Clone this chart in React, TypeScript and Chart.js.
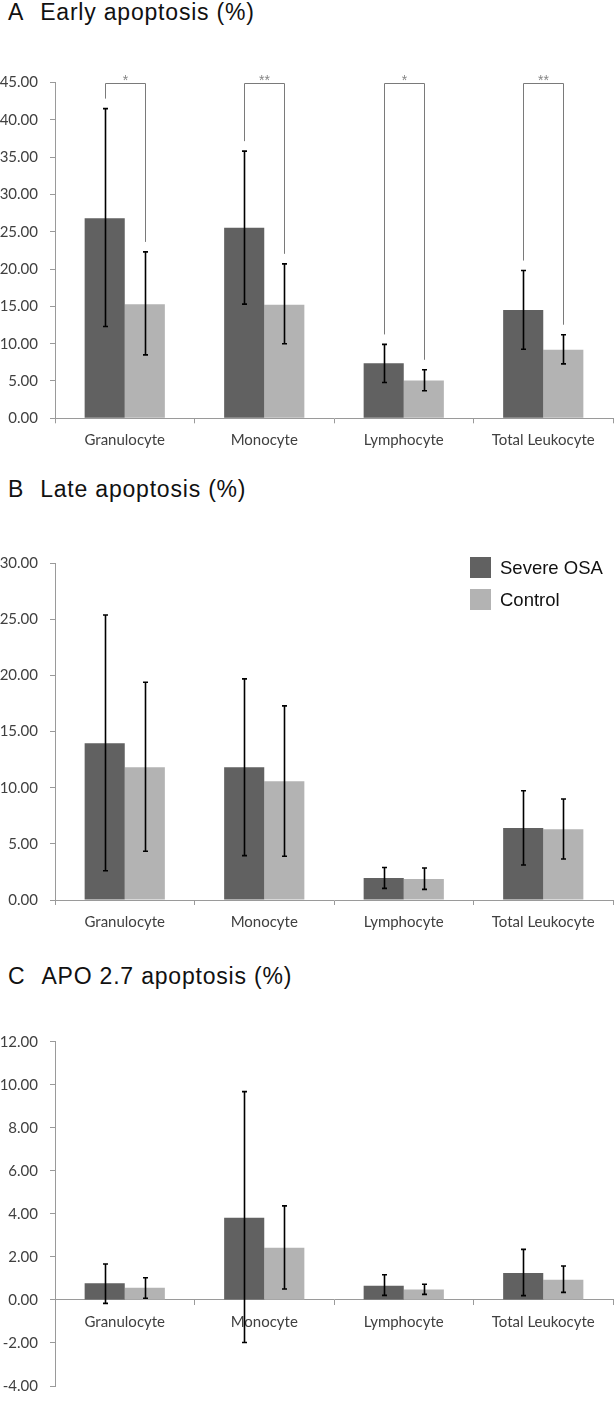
import React, { useEffect, useRef } from "react";
import { Chart, registerables } from "chart.js";

Chart.register(...registerables);

// ---------- data ----------
const categories = ["Granulocyte", "Monocyte", "Lymphocyte", "Total Leukocyte"];
const seriesNames = ["Severe OSA", "Control"];

// A  Early apoptosis (%)
const earlyOsa = [26.8, 25.55, 7.37, 14.5];
const earlyOsaHi = [41.5, 35.8, 9.9, 19.8];
const earlyOsaLo = [12.3, 15.3, 4.8, 9.25];
const earlyCtrl = [15.3, 15.2, 5.05, 9.2];
const earlyCtrlHi = [22.3, 20.7, 6.5, 11.2];
const earlyCtrlLo = [8.5, 10.0, 3.7, 7.3];
const earlySig = ["*", "**", "*", "**"];
const earlySigLevel = 45;

// B  Late apoptosis (%)
const lateOsa = [13.96, 11.83, 1.96, 6.42];
const lateOsaHi = [25.4, 19.7, 2.9, 9.74];
const lateOsaLo = [2.6, 3.95, 1.04, 3.12];
const lateCtrl = [11.83, 10.58, 1.87, 6.3];
const lateCtrlHi = [19.4, 17.3, 2.85, 9.0];
const lateCtrlLo = [4.34, 3.9, 0.95, 3.65];

// C  APO 2.7 apoptosis (%)
const apoOsa = [0.77, 3.82, 0.66, 1.25];
const apoOsaHi = [1.67, 9.68, 1.17, 2.35];
const apoOsaLo = [-0.16, -1.98, 0.21, 0.2];
const apoCtrl = [0.56, 2.43, 0.48, 0.94];
const apoCtrlHi = [1.03, 4.37, 0.73, 1.58];
const apoCtrlLo = [0.08, 0.51, 0.26, 0.35];

// axis ranges [min, max, step]
const earlyAxis = [0, 45, 5];
const lateAxis = [0, 30, 5];
const apoAxis = [-4, 12, 2];

// ---------- style ----------
const DARK = "#616161";
const LIGHT = "#b3b3b3";
const AXIS = "#9a9a9a";
const LABEL = "#404040";
const TICK_FONT = { family: "Lato", size: 15 };
const TITLE_FONT = "'Liberation Sans', Arial, sans-serif";

type PanelProps = {
  top: number;
  height: number;
  padTop: number;
  padBottom: number;
  xAxisH: number;
  xAtZero: boolean;
  axis: number[];
  osa: number[];
  osaHi: number[];
  osaLo: number[];
  ctrl: number[];
  ctrlHi: number[];
  ctrlLo: number[];
  sig?: string[];
  sigLevel?: number;
};

function Panel(p: PanelProps) {
  const ref = useRef<HTMLCanvasElement>(null);
  useEffect(() => {
    const canvas = ref.current;
    if (!canvas) return;
    const errorBars = {
      id: "errorBars",
      afterDatasetsDraw(chart: any) {
        const ctx = chart.ctx;
        const ys = chart.scales.y;
        const his = [p.osaHi, p.ctrlHi];
        const los = [p.osaLo, p.ctrlLo];
        ctx.save();
        ctx.strokeStyle = "#000000";
        ctx.lineWidth = 1.6;
        for (let d = 0; d < 2; d++) {
          const meta = chart.getDatasetMeta(d);
          meta.data.forEach((bar: any, i: number) => {
            const x = Math.round(bar.x) + 0.5;
            const yh = ys.getPixelForValue(his[d][i]);
            const yl = ys.getPixelForValue(los[d][i]);
            ctx.beginPath();
            ctx.moveTo(x, yh);
            ctx.lineTo(x, yl);
            ctx.moveTo(x - 2.5, yh);
            ctx.lineTo(x + 2.5, yh);
            ctx.moveTo(x - 2.5, yl);
            ctx.lineTo(x + 2.5, yl);
            ctx.stroke();
          });
        }
        ctx.restore();
      },
    };
    const brackets = {
      id: "brackets",
      afterDatasetsDraw(chart: any) {
        if (!p.sig || p.sigLevel === undefined) return;
        const ctx = chart.ctx;
        const ys = chart.scales.y;
        const m0 = chart.getDatasetMeta(0);
        const m1 = chart.getDatasetMeta(1);
        const yTop = Math.round(ys.getPixelForValue(p.sigLevel)) + 0.5;
        ctx.save();
        ctx.strokeStyle = "#7a7a7a";
        ctx.lineWidth = 1;
        for (let i = 0; i < p.sig.length; i++) {
          const xl = Math.round(m0.data[i].x) + 0.5;
          const xr = Math.round(m1.data[i].x) + 0.5;
          const yl = ys.getPixelForValue(p.osaHi[i]) - 10;
          const yr = ys.getPixelForValue(p.ctrlHi[i]) - 10;
          ctx.beginPath();
          ctx.moveTo(xl, yl);
          ctx.lineTo(xl, yTop);
          ctx.lineTo(xr, yTop);
          ctx.lineTo(xr, yr);
          ctx.stroke();
          ctx.fillStyle = "#858585";
          ctx.font = "14px 'Liberation Sans', Arial, sans-serif";
          ctx.textAlign = "center";
          ctx.textBaseline = "middle";
          ctx.fillText(p.sig[i], (xl + xr) / 2, yTop - 2.5);
        }
        ctx.restore();
      },
    };
    const chart = new Chart(canvas, {
      type: "bar",
      data: {
        labels: categories,
        datasets: [
          {
            label: seriesNames[0],
            data: p.osa,
            backgroundColor: DARK,
            borderWidth: 0,
            categoryPercentage: 0.575,
            barPercentage: 1,
          },
          {
            label: seriesNames[1],
            data: p.ctrl,
            backgroundColor: LIGHT,
            borderWidth: 0,
            categoryPercentage: 0.575,
            barPercentage: 1,
          },
        ],
      },
      options: {
        responsive: false,
        animation: false,
        events: [],
        layout: { padding: { top: p.padTop, bottom: p.padBottom, left: 0, right: 1 } },
        plugins: {
          legend: { display: false },
          tooltip: { enabled: false },
          title: { display: false },
        },
        scales: {
          x: {
            position: (p.xAtZero ? { y: 0 } : "bottom") as any,
            grid: {
              display: true,
              drawOnChartArea: false,
              drawTicks: true,
              tickLength: 5,
              color: AXIS,
              offset: true,
            },
            border: { display: true, color: AXIS, width: 1 },
            ticks: {
              color: LABEL,
              font: TICK_FONT,
              padding: 8,
              maxRotation: 0,
              autoSkip: false,
            },
            afterFit: (s: any) => {
              s.height = p.xAxisH;
            },
          },
          y: {
            min: p.axis[0],
            max: p.axis[1],
            ticks: {
              stepSize: p.axis[2],
              color: LABEL,
              font: TICK_FONT,
              padding: 12,
              callback: (v: any) => Number(v).toFixed(2),
            },
            grid: {
              display: true,
              drawOnChartArea: false,
              drawTicks: true,
              tickLength: 5,
              color: AXIS,
            },
            border: { display: true, color: AXIS, width: 1 },
            afterFit: (s: any) => {
              s.width = 55;
            },
          },
        },
      },
      plugins: [errorBars, brackets],
    } as any);
    return () => chart.destroy();
  }, []);
  return (
    <canvas
      ref={ref}
      width={614}
      height={p.height}
      style={{ position: "absolute", left: 0, top: p.top, width: 614, height: p.height, display: "block" }}
    />
  );
}

function Title({ letter, text, top }: { letter: string; text: string; top: number }) {
  return (
    <div
      style={{
        position: "absolute",
        left: 8,
        top,
        fontFamily: TITLE_FONT,
        fontSize: 23,
        lineHeight: "23px",
        letterSpacing: "0.8px",
        color: "#111",
        whiteSpace: "pre",
      }}
    >
      <span>{letter}</span>
      <span style={{ marginLeft: 16 }}>{text}</span>
    </div>
  );
}

function Legend({ top, left }: { top: number; left: number }) {
  const item = (name: string, color: string, y: number) => (
    <div key={name} style={{ position: "absolute", left: 0, top: y, height: 21, display: "flex", alignItems: "center" }}>
      <div style={{ width: 21, height: 21, background: color }} />
      <span
        style={{
          marginLeft: 9,
          fontFamily: TITLE_FONT,
          fontSize: 18.5,
          color: "#111",
          whiteSpace: "nowrap",
          lineHeight: "21px",
        }}
      >
        {name}
      </span>
    </div>
  );
  return (
    <div style={{ position: "absolute", left, top, width: 140, height: 60 }}>
      {item(seriesNames[0], DARK, 0)}
      {item(seriesNames[1], LIGHT, 32)}
    </div>
  );
}

export default function App() {
  return (
    <div style={{ position: "absolute", left: 0, top: 0, width: 614, height: 1407, background: "#fff", overflow: "hidden" }}>
      <Title letter="A" text="Early apoptosis (%)" top={1} />
      <Panel
        top={40}
        height={420}
        padTop={42.5}
        padBottom={0}
        xAxisH={41.7}
        xAtZero={false}
        axis={earlyAxis}
        osa={earlyOsa}
        osaHi={earlyOsaHi}
        osaLo={earlyOsaLo}
        ctrl={earlyCtrl}
        ctrlHi={earlyCtrlHi}
        ctrlLo={earlyCtrlLo}
        sig={earlySig}
        sigLevel={earlySigLevel}
      />
      <Title letter="B" text="Late apoptosis (%)" top={478} />
      <Panel
        top={520}
        height={420}
        padTop={43.3}
        padBottom={0}
        xAxisH={40}
        xAtZero={false}
        axis={lateAxis}
        osa={lateOsa}
        osaHi={lateOsaHi}
        osaLo={lateOsaLo}
        ctrl={lateCtrl}
        ctrlHi={lateCtrlHi}
        ctrlLo={lateCtrlLo}
      />
      <Legend top={557} left={470} />
      <Title letter="C" text="APO 2.7 apoptosis (%)" top={965} />
      <Panel
        top={1000}
        height={407}
        padTop={41.7}
        padBottom={6}
        xAxisH={30}
        xAtZero={true}
        axis={apoAxis}
        osa={apoOsa}
        osaHi={apoOsaHi}
        osaLo={apoOsaLo}
        ctrl={apoCtrl}
        ctrlHi={apoCtrlHi}
        ctrlLo={apoCtrlLo}
      />
    </div>
  );
}
